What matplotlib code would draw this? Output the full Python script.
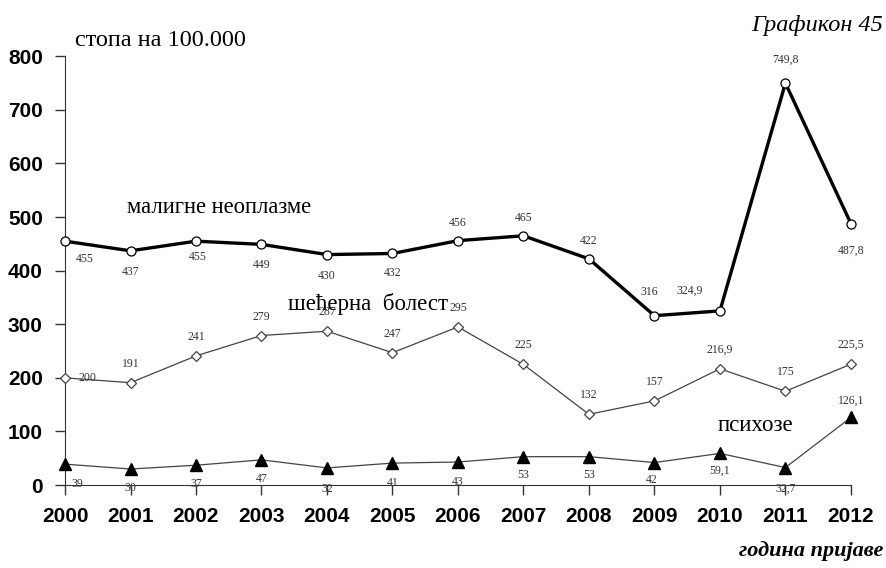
import numpy as np
from matplotlib import pyplot as plt

years = [2000, 2001, 2002, 2003, 2004, 2005, 2006, 2007, 2008, 2009, 2010, 2011, 2012]
malignant = [455, 437, 455, 449, 430, 432, 456, 465, 422, 316, 324.9, 749.8, 487.8]
diabetes = [200, 191, 241, 279, 287, 247, 295, 225, 132, 157, 216.9, 175, 225.5]
psychoses = [39, 30, 37, 47, 32, 41, 43, 53, 53, 42, 59.1, 32.7, 126.1]

# label offsets in pixels (dx, dy) for each point
malignant_off = [(20, -18), (0, -21), (2, -16), (0, -21), (0, -21), (0, -20), (0, 18),
                 (0, 18), (0, 18), (-5, 24), (-30, 20), (0, 23), (0, -27)]
diabetes_off = [(22, 0)] + [(0, 19)] * 12
psychoses_off = [(12, -20), (0, -19), (0, -19), (0, -19), (0, -21), (0, -20), (0, -20),
                 (0, -18), (0, -18), (-3, -17), (0, -17), (0, -21), (0, 17)]


def fmt(v):
    s = ('%g' % v)
    return s.replace('.', ',')


serif = 'Liberation Serif'
fig = plt.figure(figsize=(8.87, 5.68), dpi=100)
ax = fig.add_axes([0.0733, 0.146, 0.886, 0.755])

ax.plot(years, malignant, color='black', linewidth=2.4, marker='o', markersize=6.5,
        markerfacecolor='white', markeredgecolor='black', markeredgewidth=0.9, clip_on=False, zorder=4)
ax.plot(years, diabetes, color='#444444', linewidth=0.9, marker='D', markersize=5.5,
        markerfacecolor='white', markeredgecolor='#444444', markeredgewidth=0.9, clip_on=False, zorder=3)
ax.plot(years, psychoses, color='#444444', linewidth=0.9, marker='^', markersize=8,
        markerfacecolor='black', markeredgecolor='black', clip_on=False, zorder=3)

for series, offs in [(malignant, malignant_off), (diabetes, diabetes_off), (psychoses, psychoses_off)]:
    for x, y, (dx, dy) in zip(years, series, offs):
        ax.annotate(fmt(y), (x, y), xytext=(dx, dy), textcoords='offset pixels',
                    ha='center', va='center', fontsize=8.5, family=serif, color='#333333', zorder=5)

ax.set_xlim(2000, 2012)
ax.set_ylim(0, 800)
ax.set_xticks(years)
ax.set_yticks(np.arange(0, 801, 100))
for side in ['top', 'right']:
    ax.spines[side].set_visible(False)
ax.spines['left'].set_color('#333333')
ax.spines['bottom'].set_color('#333333')
ax.tick_params(direction='out', length=7, width=1, color='#333333', labelsize=15)
ax.tick_params(axis='x', pad=9)
ax.tick_params(axis='y', pad=9)
for lab in ax.get_xticklabels() + ax.get_yticklabels():
    lab.set_fontweight('bold')
    lab.set_family('Liberation Sans')

ax.text(2000.15, 830, 'стопа на 100.000', family=serif, fontsize=17.5, va='center')
ax.text(2000.95, 517, 'малигне неоплазме', family=serif, fontsize=16.3, va='center')
ax.text(2003.4, 338, 'шећерна  болест', family=serif, fontsize=16.5, va='center')
ax.text(2009.97, 112, 'психозе', family=serif, fontsize=16.5, va='center')

fig.text(0.996, 0.955, 'Графикон 45', family=serif, style='italic', fontsize=17.5,
         ha='right', va='center')
fig.text(0.996, 0.03, 'година пријаве', family=serif, style='italic', weight='bold',
         fontsize=16, ha='right', va='center')

plt.savefig('out.png', dpi=100)
